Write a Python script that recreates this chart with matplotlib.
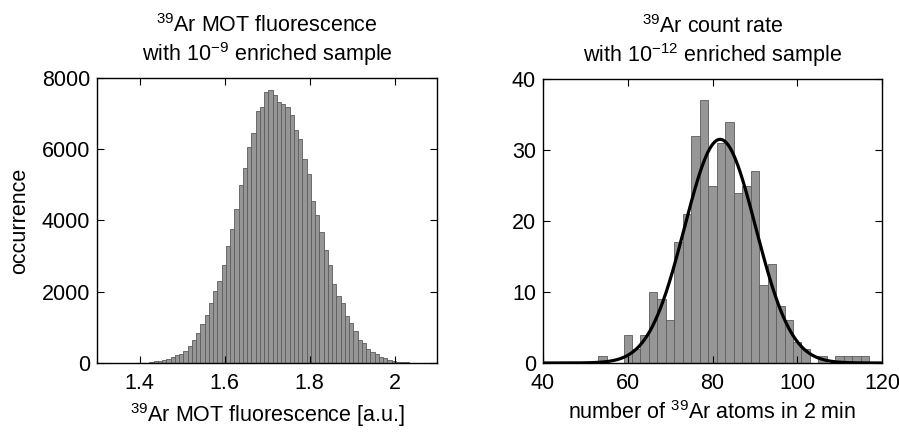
import matplotlib
matplotlib.use("Agg")
import matplotlib.pyplot as plt
import numpy as np

plt.rcParams['font.family'] = ['Liberation Sans', 'DejaVu Sans']
plt.rcParams['mathtext.fontset'] = 'custom'
plt.rcParams['mathtext.rm'] = 'Liberation Sans'
plt.rcParams['mathtext.it'] = 'Liberation Sans'
plt.rcParams['mathtext.default'] = 'regular'

FS = 15.5

# left panel: MOT fluorescence histogram (bin width 0.01)
fluo_start = 1.403
fluo_width = 0.01
fluo_counts = [5, 10, 20, 45, 65, 85, 120, 160, 225, 250,
               340, 480, 645, 850, 1090, 1350, 1675, 2010, 2310, 2740,
               3290, 3760, 4310, 4990, 5470, 6050, 6460, 7060, 7180, 7600,
               7670, 7510, 7330, 7280, 7190, 6950, 6550, 6280, 5730, 5310,
               4540, 4160, 3680, 3170, 2750, 2220, 1890, 1675, 1330, 1120,
               910, 655, 550, 400, 310, 250, 180, 130, 90, 60,
               40, 25, 15, 8, 4]

# right panel: atom counts per 2 min (bin width 2)
atom_start = 53
atom_width = 2
atom_counts = [1, 0, 0, 4, 2, 4, 10, 9, 6, 17,
               21, 32, 37, 25, 31, 34, 24, 25, 27, 11,
               14, 8, 6, 3, 2, 0, 1, 0, 1, 1,
               1, 1]

# gaussian fit parameters
fit_amp = 31.5
fit_mu = 81.8
fit_sigma = 8.4

bar_face = '#969696'
bar_edge = '#5c5c5c'

fig = plt.figure(figsize=(8.99, 4.32), dpi=100)

ax1 = fig.add_axes([97/899, 1-363/432, 340/899, 285/432])
x1 = fluo_start + fluo_width*np.arange(len(fluo_counts))
ax1.bar(x1, fluo_counts, width=fluo_width, align='edge',
        color=bar_face, edgecolor=bar_edge, linewidth=0.6)
ax1.set_xlim(1.3, 2.1)
ax1.set_ylim(0, 8000)
ax1.set_xticks([1.4, 1.6, 1.8, 2.0])
ax1.set_xticklabels(['1.4', '1.6', '1.8', '2'])
ax1.set_yticks([0, 2000, 4000, 6000, 8000])
ax1.set_ylabel('occurrence', fontsize=FS, labelpad=8)
ax1.set_xlabel('$^{39}$Ar MOT fluorescence [a.u.]', fontsize=FS, labelpad=5)
ax1.set_title('$^{39}$Ar MOT fluorescence\nwith 10$^{-9}$ enriched sample',
              fontsize=FS, pad=12, linespacing=1.15)

ax2 = fig.add_axes([543/899, 1-363/432, 339/899, 284/432])
x2 = atom_start + atom_width*np.arange(len(atom_counts))
ax2.bar(x2, atom_counts, width=atom_width, align='edge',
        color=bar_face, edgecolor=bar_edge, linewidth=0.6)
xf = np.linspace(40, 120, 400)
ax2.plot(xf, fit_amp*np.exp(-(xf-fit_mu)**2/(2*fit_sigma**2)),
         color='black', lw=2.3)
ax2.set_xlim(40, 120)
ax2.set_ylim(0, 40)
ax2.set_xticks([40, 60, 80, 100, 120])
ax2.set_yticks([0, 10, 20, 30, 40])
ax2.set_xlabel('number of $^{39}$Ar atoms in 2 min', fontsize=FS, labelpad=5)
ax2.set_title('$^{39}$Ar count rate\nwith 10$^{-12}$ enriched sample',
              fontsize=FS, pad=12, linespacing=1.15)

for ax in (ax1, ax2):
    ax.tick_params(direction='in', top=True, right=True, length=5,
                   width=0.8, labelsize=FS)
    ax.tick_params(axis='x', pad=7)
    ax.tick_params(axis='y', pad=5)
    for s in ax.spines.values():
        s.set_linewidth(1.0)

fig.savefig('out.png', dpi=100)
